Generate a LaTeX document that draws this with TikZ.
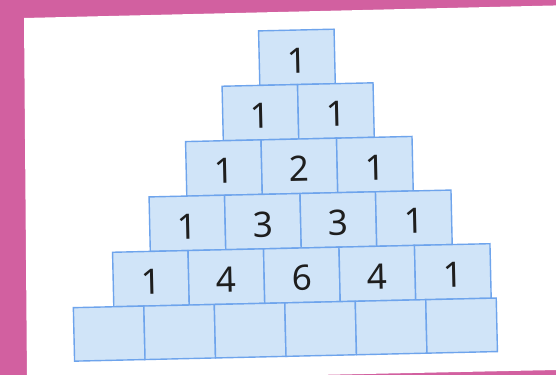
\documentclass[tikz,border=0pt]{standalone}
\usepackage{fontspec}
\setmainfont{Noto Sans}
\definecolor{bgpink}{RGB}{210,96,160}
\definecolor{cellfill}{RGB}{208,228,248}
\definecolor{celldraw}{RGB}{110,164,236}
\definecolor{digitc}{RGB}{30,30,30}
\begin{document}
\begin{tikzpicture}[x=1pt,y=1pt,
  cell/.style={draw=celldraw, fill=cellfill, line width=1.4pt,
    minimum width=75.5pt, minimum height=54.5pt, inner sep=0pt,
    text height=31pt, text depth=0pt,
    text=digitc, font=\fontsize{35}{40}\selectfont, transform shape},
  basecell/.style={cell, minimum width=70.5pt, minimum height=53.5pt}]
\useasboundingbox (0,0) rectangle (556,375);
\fill[bgpink] (0,0) rectangle (556,375);
\fill[white] (24,357) -- (600,370.6) -- (600,5.9) -- (27,-6) -- cycle;
\begin{scope}[rotate around={1.3:(300,182)}]
  % row 1
  \node[cell] (r1c1) at (300,317.75) {1};
  % row 2
  \node[cell] (r2c1) at (262.25,263.25) {1};
  \node[cell] (r2c2) at (337.75,263.25) {1};
  % row 3
  \node[cell] (r3c1) at (224.5,208.75) {1};
  \node[cell] (r3c2) at (300,208.75) {2};
  \node[cell] (r3c3) at (375.5,208.75) {1};
  % row 4
  \node[cell] (r4c1) at (186.75,154.25) {1};
  \node[cell] (r4c2) at (262.25,154.25) {3};
  \node[cell] (r4c3) at (337.75,154.25) {3};
  \node[cell] (r4c4) at (413.25,154.25) {1};
  % row 5
  \node[cell] (r5c1) at (149,99.75) {1};
  \node[cell] (r5c2) at (224.5,99.75) {4};
  \node[cell] (r5c3) at (300,99.75) {6};
  \node[cell] (r5c4) at (375.5,99.75) {4};
  \node[cell] (r5c5) at (451,99.75) {1};
  % row 6 (empty)
  \node[basecell] (r6c1) at (106.05,45.75) {};
  \node[basecell] (r6c2) at (176.55,45.75) {};
  \node[basecell] (r6c3) at (247.05,45.75) {};
  \node[basecell] (r6c4) at (317.55,45.75) {};
  \node[basecell] (r6c5) at (388.05,45.75) {};
  \node[basecell] (r6c6) at (458.55,45.75) {};
\end{scope}
\end{tikzpicture}
\end{document}
